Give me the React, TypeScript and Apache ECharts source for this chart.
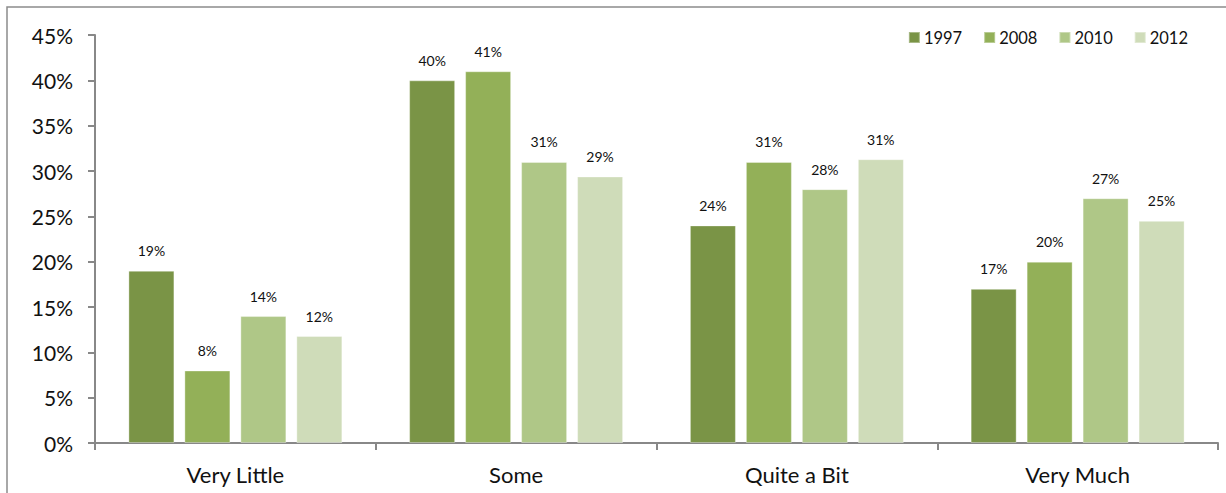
import React, { useEffect, useRef } from "react";
import * as echarts from "echarts";

const categories = ["Very Little", "Some", "Quite a Bit", "Very Much"];
const years = ["1997", "2008", "2010", "2012"];
const v1997 = [19, 40, 24, 17];
const v2008 = [8, 41, 31, 20];
const v2010 = [14, 31, 28, 27];
const v2012 = [11.8, 29.4, 31.3, 24.5];
const colors = ["#7A9446", "#93B058", "#AFC787", "#CFDCB9"];
const yTicks = [0, 5, 10, 15, 20, 25, 30, 35, 40, 45];

export default function App() {
  const ref = useRef<HTMLDivElement>(null);
  useEffect(() => {
    if (!ref.current) return;
    const chart = echarts.init(ref.current, null, { renderer: "svg" });
    const font = "Lato, 'Open Sans', sans-serif";
    const all = [v1997, v2008, v2010, v2012];
    chart.setOption({
      animation: false,
      textStyle: { fontFamily: font },
      graphic: [
        {
          type: "rect",
          shape: { x: 7, y: 7, width: 1400, height: 700 },
          style: { fill: "none", stroke: "#8c8c8c", lineWidth: 1.5 },
          silent: true,
        },
      ],
      legend: {
        top: 24,
        right: 33,
        itemWidth: 11,
        itemHeight: 11,
        itemGap: 21,
        icon: "rect",
        textStyle: { fontSize: 16.5, color: "#111", fontFamily: font, padding: [0, 0, 0, -1] },
        data: years,
      },
      grid: { left: 95, right: 8, top: 35, bottom: 50, containLabel: false },
      xAxis: {
        type: "category",
        data: categories,
        axisLine: { lineStyle: { color: "#888", width: 2 } },
        axisTick: { show: true, length: 7, lineStyle: { color: "#888", width: 2 } },
        axisLabel: { fontSize: 22, color: "#111", margin: 20, fontFamily: font },
      },
      yAxis: {
        type: "value",
        min: 0,
        max: 45,
        interval: 5,
        axisLine: { show: true, lineStyle: { color: "#888", width: 2 } },
        axisTick: { show: true, length: 7, lineStyle: { color: "#888", width: 2 } },
        splitLine: { show: false },
        axisLabel: {
          fontSize: 21,
          color: "#111",
          margin: 22,
          fontFamily: font,
          formatter: (v: number) => (yTicks.includes(v) ? v + "%" : ""),
        },
      },
      series: years.map((y, i) => ({
        name: y,
        type: "bar",
        data: all[i],
        barWidth: 46,
        barGap: "21.7%",
        itemStyle: { color: colors[i], borderColor: "rgba(255,255,255,0.35)", borderWidth: 1 },
        label: {
          show: true,
          position: "top",
          distance: 13,
          fontSize: 14,
          color: "#111",
          fontFamily: font,
          formatter: (p: any) => Math.round(p.value) + "%",
        },
      })),
    });
    return () => chart.dispose();
  }, []);
  return (
    <div
      ref={ref}
      style={{ position: "fixed", left: 0, top: 0, width: 1226, height: 493, background: "#fff" }}
    />
  );
}
